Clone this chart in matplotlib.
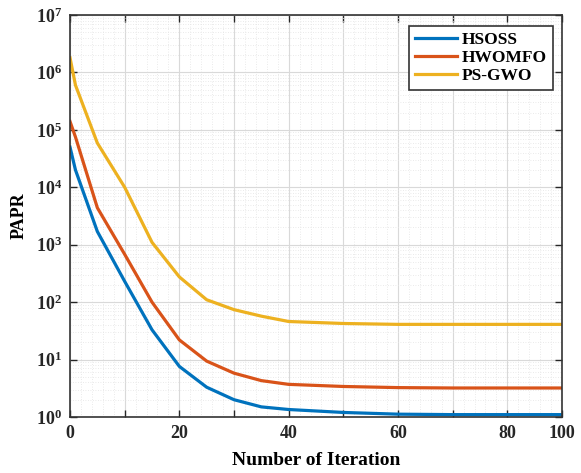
import numpy as np
import matplotlib
matplotlib.use("Agg")
import matplotlib.pyplot as plt
from matplotlib.ticker import FixedLocator, NullFormatter, LogFormatterMathtext

plt.rcParams["font.family"] = ["Liberation Serif", "DejaVu Serif"]
plt.rcParams["font.weight"] = "bold"
plt.rcParams["mathtext.fontset"] = "custom"
plt.rcParams["mathtext.rm"] = "Liberation Serif:bold"
plt.rcParams["mathtext.it"] = "Liberation Serif:bold"
plt.rcParams["mathtext.bf"] = "Liberation Serif:bold"

# iteration axis positions of the curve vertices
iters = [0, 1, 5, 10, 15, 20, 25, 30, 35, 40, 50, 60, 70, 80, 90]

hsoss = [5.0e4, 2.0e4, 1.7e3, 2.3e2, 33, 7.6, 3.3, 2.0, 1.5, 1.35, 1.2, 1.12, 1.1, 1.1, 1.1]
hwomfo = [1.4e5, 7.5e4, 4.4e3, 6.8e2, 100, 22, 9.4, 5.8, 4.3, 3.7, 3.4, 3.25, 3.2, 3.2, 3.2]
psgwo = [1.8e6, 6.0e5, 5.9e4, 1.0e4, 1.1e3, 275, 110, 74, 57, 46, 42.5, 41, 41, 41, 41]

series = [
    ("HSOSS", hsoss, "#0072BD"),
    ("HWOMFO", hwomfo, "#D95319"),
    ("PS-GWO", psgwo, "#EDB120"),
]

xtick_pos = [0, 20, 40, 60, 80, 90]
xtick_labels = ["0", "20", "40", "60", "80", "100"]
xtick_unlabeled = [10, 30, 50, 70]
ytick_pos = [10.0 ** k for k in range(0, 8)]

fig = plt.figure(figsize=(5.81, 4.73), dpi=100)
ax = fig.add_axes([0.1205, 0.1184, 0.8468, 0.8499])

for name, vals, color in series:
    ax.plot(iters, vals, color=color, linewidth=2.3, label=name)

ax.set_yscale("log")
ax.set_xlim(0, 90)
ax.set_ylim(1, 1e7)

ax.xaxis.set_major_locator(FixedLocator(xtick_pos))
ax.set_xticklabels(xtick_labels)
ax.xaxis.set_minor_locator(FixedLocator(xtick_unlabeled))
ax.yaxis.set_major_locator(FixedLocator(ytick_pos))
ax.yaxis.set_major_formatter(LogFormatterMathtext())
yminor = [m * 10.0 ** k for k in range(0, 7) for m in range(2, 10)]
ax.yaxis.set_minor_locator(FixedLocator(yminor))
ax.yaxis.set_minor_formatter(NullFormatter())

ax.tick_params(which="major", direction="in", length=5, width=1.0,
               top=True, right=True, labelsize=13, colors="#262626",
               pad=6)
ax.tick_params(axis="x", which="minor", direction="in", length=5, width=1.0,
               top=True, colors="#262626")
ax.tick_params(axis="y", which="minor", length=0, right=True)

# solid grid on the decades / every 10 iterations, dotted fine grid between
ax.grid(which="major", color="#d9d9d9", linewidth=0.8, linestyle="-")
ax.grid(axis="x", which="minor", color="#d9d9d9", linewidth=0.8, linestyle="-")
ax.grid(axis="y", which="minor", color="#e3e3e3", linewidth=0.6, linestyle=(0, (1, 2)))
for xv in np.arange(2, 90, 2):
    if xv % 10:
        ax.axvline(xv, color="#e3e3e3", linewidth=0.6, linestyle=(0, (1, 2)), zorder=0)
ax.set_axisbelow(True)

for spine in ax.spines.values():
    spine.set_color("#333333")
    spine.set_linewidth(1.2)

ax.set_xlabel("Number of Iteration", fontsize=14, fontweight="bold", labelpad=7)
ax.set_ylabel("PAPR", fontsize=13, fontweight="bold", labelpad=6)

leg = ax.legend(loc="upper right", bbox_to_anchor=(0.982, 0.973),
                borderaxespad=0, fontsize=12.5, handlelength=2.4,
                handletextpad=0.3, labelspacing=0.1, borderpad=0.35,
                fancybox=False, framealpha=1, edgecolor="#333333")
leg.get_frame().set_linewidth(1.2)
for t in leg.get_texts():
    t.set_fontweight("bold")

fig.savefig("out.png", dpi=100)
